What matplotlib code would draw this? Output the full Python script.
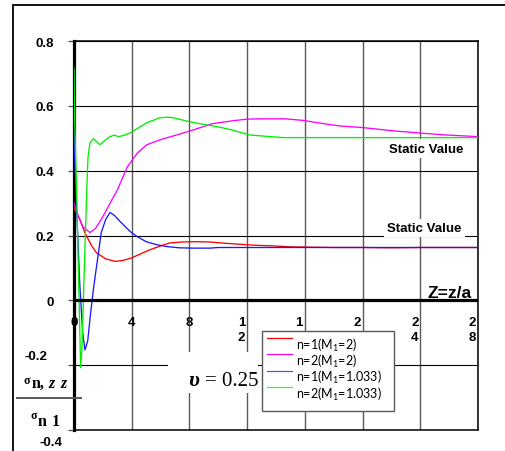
import numpy as np
import matplotlib
matplotlib.use("Agg")
import matplotlib.pyplot as plt
from matplotlib.patches import Rectangle
from matplotlib.lines import Line2D

plt.rcParams['mathtext.fontset'] = 'custom'
plt.rcParams['mathtext.rm'] = 'Lato'
plt.rcParams['mathtext.it'] = 'Lato:italic'

W, H = 505, 452

# normalised stress along the axis, sigma_n,zz / sigma_n1, against Z = z/a
z_red = [0, 0.4, 0.76, 1.2, 1.57, 2.2, 2.84, 3.4, 4.0, 4.6, 5.27, 6.0, 6.65, 7.5,
         8.3, 9.4, 10.5, 11.5, 12.5, 13.8, 15, 16.5, 18, 20, 22, 24, 26, 28]
s_red = [0.285, 0.25, 0.208, 0.17, 0.146, 0.128, 0.12, 0.123, 0.131, 0.143, 0.156,
         0.168, 0.177, 0.18, 0.181, 0.18, 0.176, 0.173, 0.17, 0.168, 0.165, 0.164,
         0.163, 0.163, 0.162, 0.163, 0.163, 0.163]

z_mag = [0, 0.3, 0.6, 1.1, 1.5, 2.0, 2.7, 3.0, 3.7, 4.4, 5.05, 5.95, 7.1, 8.0, 8.7,
         9.6, 11, 12, 13, 14.6, 15.9, 17, 18.4, 20, 22.1, 24, 25.8, 28]
s_mag = [0.30, 0.26, 0.228, 0.209, 0.222, 0.258, 0.316, 0.34, 0.412, 0.455, 0.48,
         0.495, 0.51, 0.522, 0.532, 0.545, 0.554, 0.559, 0.56, 0.56, 0.555, 0.547,
         0.538, 0.533, 0.523, 0.516, 0.51, 0.505]

z_blue = [0, 0.05, 0.2, 0.4, 0.6, 0.76, 0.95, 1.15, 1.34, 1.5, 1.66, 1.88, 2.2, 2.5,
          2.8, 3.2, 3.9, 4.4, 5.0, 5.7, 6.4, 7.3, 8.3, 9.4, 10, 12, 16, 20, 24, 28]
s_blue = [0.525, 0.45, 0.26, 0.05, -0.1, -0.153, -0.125, -0.04, 0.032, 0.085, 0.135,
          0.208, 0.25, 0.271, 0.262, 0.243, 0.212, 0.196, 0.181, 0.172, 0.166, 0.162,
          0.161, 0.161, 0.163, 0.163, 0.163, 0.163, 0.163, 0.163]

z_green = [0, 0.05, 0.18, 0.3, 0.46, 0.55, 0.65, 0.8, 0.9, 0.97, 1.1, 1.34, 1.55, 1.8,
           2.1, 2.5, 2.8, 3.07, 3.4, 3.9, 4.4, 5.05, 5.95, 6.4, 6.9, 8.0, 8.7, 10, 11,
           12.2, 13.6, 14.5, 16, 20, 24, 28]
s_green = [0.717, 0.55, 0.34, 0.1, -0.208, -0.15, 0.0, 0.22, 0.36, 0.44, 0.485, 0.499,
           0.49, 0.48, 0.492, 0.505, 0.51, 0.505, 0.508, 0.517, 0.53, 0.548, 0.563,
           0.565, 0.563, 0.551, 0.545, 0.535, 0.525, 0.51, 0.505, 0.502, 0.502, 0.502,
           0.502, 0.502]

labels = ['n=1(M$_1$=2)', 'n=2(M$_1$=2)', 'n=1(M$_1$=1.033)', 'n=2(M$_1$=1.033)']
colors = ['#ff0000', '#ff00ff', '#1a1aff', '#00f000']
legend_colors = ['#ff0000', '#ff00ff', '#5050ff', '#40f040']

x_ticks = [0, 4, 8, 12, 16, 20, 24, 28]
x_ticklabels = ['0', '4', '8', '1\n2', '1\n6', '2\n0', '2\n4', '2\n8']
y_ticks = [-0.4, -0.2, 0, 0.2, 0.4, 0.6, 0.8]
y_ticklabels = ['', '', '0', '0.2', '0.4', '0.6', '0.8']


def fx(px):
    return px / W


def fy(py):
    return 1 - py / H


fig = plt.figure(figsize=(W / 100, H / 100), dpi=100)
ax = fig.add_axes([fx(74), fy(431), fx(478) - fx(74), fy(42) - fy(431)])

for z, s, c in zip([z_red, z_mag, z_blue, z_green], [s_red, s_mag, s_blue, s_green], colors):
    ax.plot(z, s, color=c, lw=0.95, zorder=3)

ax.set_xlim(0, 28)
ax.set_ylim(-0.4, 0.8)
ax.set_xticks(x_ticks)
ax.set_yticks(y_ticks)
ax.set_yticklabels(y_ticklabels, fontfamily='Liberation Sans', fontweight='bold', fontsize=9.5)
ax.tick_params(axis='x', length=0, labelbottom=False)
ax.tick_params(axis='y', length=4.5, width=0.9, color='0.3', pad=10)
ax.grid(axis='x', color='0.35', lw=1.0)
ax.grid(axis='y', color='black', lw=0.8)
ax.axhline(0, color='black', lw=2.3, zorder=3.5)
for side in ['top', 'right', 'bottom']:
    ax.spines[side].set_linewidth(1.1)
ax.spines['left'].set_linewidth(2.3)

# wrapped Z tick labels sit just under the zero line
for xv, lab in zip(x_ticks, x_ticklabels):
    dx = 0 if '\n' not in lab else -4
    ax.annotate(lab, (xv, 0), xytext=(dx, -11), textcoords='offset points',
                ha='center', va='top', linespacing=1.35,
                fontfamily='Liberation Sans', fontweight='bold', fontsize=9.5)

ax.text(27.58, 0.011, 'Z=z/a', ha='right', va='baseline',
        fontfamily='Liberation Sans', fontweight='bold', fontsize=12.5)

for sx, sy in [(24.4, 0.468), (24.3, 0.223)]:
    ax.text(sx, sy, 'Static Value', ha='center', va='center',
            fontfamily='Liberation Sans', fontweight='bold', fontsize=9.5,
            bbox=dict(fc='white', ec='none', pad=2.5), zorder=4)

# negative y labels sit off the grid
fig.text(fx(47.5), fy(357), '-0.2', ha='right', va='center',
         fontfamily='Liberation Sans', fontweight='bold', fontsize=9.5)
fig.text(fx(62), fy(443), '-0.4', ha='right', va='center',
         fontfamily='Liberation Sans', fontweight='bold', fontsize=9.5)

# y label as a stacked fraction
serif = 'Liberation Serif'
fig.text(fx(24), fy(381.5), 'σ', ha='left', va='center', fontfamily=serif,
         fontweight='bold', fontsize=8.5)
fig.text(fx(31.5), fy(388.3), 'n,', ha='left', va='baseline', fontfamily=serif,
         fontweight='bold', fontsize=11.5)
fig.text(fx(48), fy(388.3), 'z', ha='left', va='baseline', fontfamily=serif,
         fontweight='bold', fontstyle='italic', fontsize=11.5)
fig.text(fx(60), fy(388.3), 'z', ha='left', va='baseline', fontfamily=serif,
         fontweight='bold', fontstyle='italic', fontsize=11.5)
fig.add_artist(Line2D([fx(17), fx(81)], [fy(399.3), fy(399.3)], color='0.35', lw=1.4,
                      transform=fig.transFigure))
fig.text(fx(30.5), fy(416.5), 'σ', ha='left', va='center', fontfamily=serif,
         fontweight='bold', fontsize=8.5)
fig.text(fx(38), fy(426), 'n', ha='left', va='baseline', fontfamily=serif,
         fontweight='bold', fontsize=11.5)
fig.text(fx(51.5), fy(426), '1', ha='left', va='baseline', fontfamily=serif,
         fontweight='bold', fontsize=11.5)

# Poisson ratio note on a white patch
fig.add_artist(Rectangle((fx(168), fy(394)), fx(258) - fx(168), fy(353) - fy(394),
                         transform=fig.transFigure, fc='white', ec='none', zorder=2))
fig.text(fx(188), fy(386), 'υ', ha='left', va='baseline', fontfamily=serif,
         fontweight='bold', fontstyle='italic', fontsize=16, zorder=3)
fig.text(fx(205), fy(386), '= 0.25', ha='left', va='baseline', fontfamily=serif,
         fontsize=15, zorder=3)

# legend box
fig.add_artist(Rectangle((fx(262), fy(412)), fx(394) - fx(262), fy(332) - fy(412),
                         transform=fig.transFigure, fc='white', ec='0.35', lw=1.0, zorder=4))
for i, (lab, c) in enumerate(zip(labels, legend_colors)):
    ly = 339 + 16.4 * i
    fig.add_artist(Line2D([fx(267), fx(292)], [fy(ly), fy(ly)], color=c, lw=0.9,
                          transform=fig.transFigure, zorder=5))
    fig.text(fx(296), fy(ly + 6), lab, ha='left', va='center', fontfamily='Lato',
             fontsize=9, zorder=5)

# outer frame, cut off at right and bottom
fig.add_artist(Rectangle((fx(13), -0.1), 1.2, fy(6) + 0.1, transform=fig.transFigure,
                         fc='none', ec='black', lw=1.3, zorder=6))

fig.savefig('out.png', dpi=100)
